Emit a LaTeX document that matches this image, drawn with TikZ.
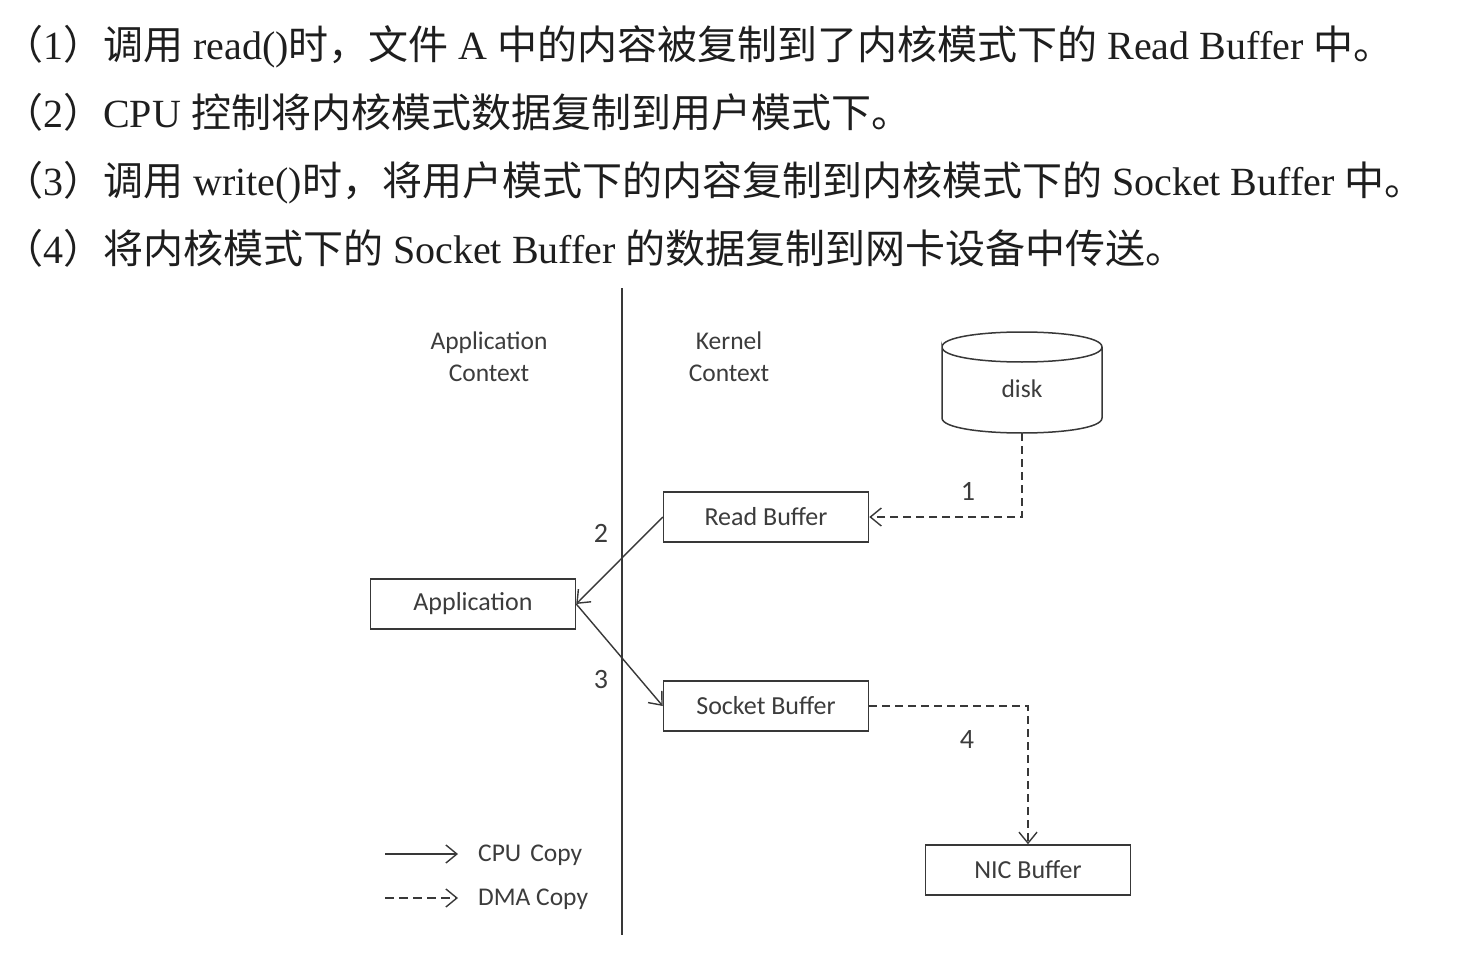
\documentclass[tikz,border=0pt]{standalone}
\usepackage{fontspec}
\setmainfont{Liberation Serif}
\newfontfamily\cjkf{Noto Sans CJK SC}
\newfontfamily\diagf{Carlito}
\usetikzlibrary{arrows.meta}
\newcommand\zh[1]{{\cjkf #1}}
\definecolor{linec}{HTML}{383838}
\definecolor{textc}{HTML}{3C3C3C}
\definecolor{cntext}{HTML}{1E1E1E}
\begin{document}
\begin{tikzpicture}[x=1pt,y=-1pt,
  box/.style={draw=linec, line width=1.5pt, minimum width=205pt, minimum height=50pt, inner sep=0pt,
    font=\diagf\fontsize{26}{30}\selectfont, text=textc},
  cpu/.style={draw=linec, line width=1.4pt, -{Straight Barb[length=11pt,width=18pt,line width=1.4pt]}},
  dma/.style={cpu, dash pattern=on 8pt off 5pt},
  lbl/.style={font=\diagf\fontsize{25.5}{29}\selectfont, text=textc, align=center, inner sep=0pt},
  num/.style={font=\diagf\fontsize{28}{32}\selectfont, text=textc, inner sep=0pt},
  cn/.style={anchor=base west, inner sep=0pt, font=\fontsize{40}{46}\selectfont, text=cntext}]
\fill[white] (0,0) rectangle (1470,960);
\useasboundingbox (0,0) rectangle (1470,960);

% text lines
\node[cn] (l1) at (3,60) {\zh{（}1\zh{）调用} read()\zh{时，文件} A \zh{中的内容被复制到了内核模式下的} Read Buffer \zh{中。}};
\node[cn] (l2) at (3,128) {\zh{（}2\zh{）}CPU \zh{控制将内核模式数据复制到用户模式下。}};
\node[cn] (l3) at (3,196) {\zh{（}3\zh{）调用} write()\zh{时，将用户模式下的内容复制到内核模式下的} Socket Buffer \zh{中。}};
\node[cn] (l4) at (3,263) {\zh{（}4\zh{）将内核模式下的} Socket Buffer \zh{的数据复制到网卡设备中传送。}};

% divider
\coordinate (divtop) at (622,288);
\coordinate (divbot) at (622,935);
\draw[linec, line width=2pt] (divtop) -- (divbot);

% headers
\node[lbl] (appctx) at (489,357) {Application\\[3pt]Context};
\node[lbl] (kerctx) at (729,357) {Kernel\\[3pt]Context};

% disk cylinder
\draw[linec, line width=1.5pt]
  (942,347) .. controls (942,327) and (1102,327) .. (1102,347)
  .. controls (1102,367) and (942,367) .. (942,347) -- (942,418)
  .. controls (942,438) and (1102,438) .. (1102,418) -- (1102,347);
\node[lbl] (disk) at (1022,389) {disk};
\coordinate (diskbot) at (1022,433);

% boxes
\node[box] (rb) at (766,517) {Read Buffer};
\node[box] (sb) at (766,706) {Socket Buffer};
\node[box] (app) at (473,604) {Application};
\node[box] (nic) at (1028,870) {NIC Buffer};

% connectors
\draw[dma] (diskbot) |- (rb.east);
\draw[cpu] (rb.west) -- (app.east);
\draw[cpu] (app.east) -- (sb.west);
\draw[dma] (sb.east) -| (nic.north);

% step numbers
\node[num] (n1) at (968,491) {1};
\node[num] (n2) at (601,533) {2};
\node[num] (n3) at (601,680) {3};
\node[num] (n4) at (967,740) {4};

% legend
\node[lbl, anchor=west] (cpul) at (478,855) {CPU\hspace{0.35em}Copy};
\node[lbl, anchor=west] (dmal) at (478,899) {DMA Copy};
\coordinate (cpus) at (385,854);
\coordinate (dmas) at (385,898);
\draw[cpu, shorten >=20pt] (cpus) -- (cpus -| cpul.west);
\draw[dma, dash pattern=on 9pt off 5pt, shorten >=20pt] (dmas) -- (dmas -| dmal.west);
\end{tikzpicture}
\end{document}
